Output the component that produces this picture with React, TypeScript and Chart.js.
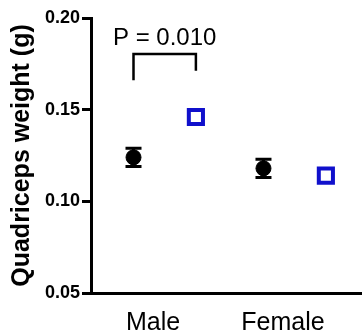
import React, { useEffect, useRef } from 'react';
import { Chart, registerables } from 'chart.js';

Chart.register(...registerables);

const categories = ['Male', 'Female'];
const categoryPositions = [1, 2];
const controlMeans = [0.124, 0.118];
const controlErrors = [0.005, 0.005];
const treatedMeans = [0.146, 0.114];
const yTicks = [0.05, 0.1, 0.15, 0.2];
const pValueLabel = 'P = 0.010';
// bracket: [left y end, top y, right y end], in data units
const bracketLevels = [0.166, 0.1804, 0.1712];
const pLabelLevel = 0.189;

const CONTROL_OFFSET = -0.15;
const TREATED_OFFSET = 0.33;

export default function App() {
  const ref = useRef<HTMLCanvasElement | null>(null);

  useEffect(() => {
    document.body.style.margin = '0';
    document.body.style.overflow = 'hidden';
    const canvas = ref.current;
    if (!canvas) return;

    const controlPts = categoryPositions.map((p, i) => ({ x: p + CONTROL_OFFSET, y: controlMeans[i] }));
    const treatedPts = categoryPositions.map((p, i) => ({ x: p + TREATED_OFFSET, y: treatedMeans[i] }));

    const errorBars = {
      id: 'errorBars',
      beforeDatasetsDraw(chart: any) {
        const { ctx, scales } = chart;
        const xs = scales.x;
        const ys = scales.y;
        ctx.save();
        ctx.strokeStyle = '#000';
        ctx.lineWidth = 3;
        controlPts.forEach((pt, i) => {
          const x = xs.getPixelForValue(pt.x);
          const y1 = ys.getPixelForValue(pt.y - controlErrors[i]);
          const y2 = ys.getPixelForValue(pt.y + controlErrors[i]);
          ctx.beginPath();
          ctx.moveTo(x, y1);
          ctx.lineTo(x, y2);
          ctx.moveTo(x - 8, y1);
          ctx.lineTo(x + 8, y1);
          ctx.moveTo(x - 8, y2);
          ctx.lineTo(x + 8, y2);
          ctx.stroke();
        });
        ctx.restore();
      },
    };

    const bracket = {
      id: 'bracket',
      afterDraw(chart: any) {
        const { ctx, scales } = chart;
        const xs = scales.x;
        const ys = scales.y;
        const xl = xs.getPixelForValue(controlPts[0].x);
        const xr = xs.getPixelForValue(treatedPts[0].x);
        ctx.save();
        ctx.strokeStyle = '#000';
        ctx.lineWidth = 2.5;
        ctx.beginPath();
        ctx.moveTo(xl, ys.getPixelForValue(bracketLevels[0]));
        ctx.lineTo(xl, ys.getPixelForValue(bracketLevels[1]));
        ctx.lineTo(xr, ys.getPixelForValue(bracketLevels[1]));
        ctx.lineTo(xr, ys.getPixelForValue(bracketLevels[2]));
        ctx.stroke();
        ctx.fillStyle = '#000';
        ctx.font = '24px "Liberation Sans", Arial, sans-serif';
        ctx.textAlign = 'center';
        ctx.textBaseline = 'middle';
        ctx.fillText(pValueLabel, (xl + xr) / 2, ys.getPixelForValue(pLabelLevel));
        ctx.restore();
      },
    };

    const chart = new Chart(canvas, {
      type: 'scatter',
      data: {
        datasets: [
          {
            label: 'Control',
            data: controlPts,
            pointStyle: 'circle',
            pointRadius: 7.5,
            pointBackgroundColor: '#000',
            pointBorderColor: '#000',
            pointBorderWidth: 1,
          },
          {
            label: 'Treated',
            data: treatedPts,
            pointStyle: 'rect',
            pointRadius: 10,
            pointBackgroundColor: '#fff',
            pointBorderColor: '#1010cc',
            pointBorderWidth: 4,
          },
        ],
      },
      options: {
        animation: false,
        responsive: false,
        maintainAspectRatio: false,
        layout: { autoPadding: false, padding: { top: 18, left: 0, right: 0, bottom: 0 } },
        plugins: { legend: { display: false }, tooltip: { enabled: false } },
        scales: {
          x: {
            type: 'linear',
            min: 0.523,
            max: 2.608,
            afterBuildTicks(scale: any) {
              scale.ticks = categoryPositions.map((v) => ({ value: v }));
            },
            afterFit(scale: any) {
              scale.height = 40;
              scale.paddingLeft = 0;
              scale.paddingRight = 0;
            },
            grid: { display: false },
            border: { display: true, color: '#000', width: 3 },
            ticks: {
              color: '#000',
              padding: 7,
              font: { family: '"Liberation Sans", Arial, sans-serif', size: 25 },
              callback: (_v: any, i: number) => categories[i],
              maxRotation: 0,
            },
          },
          y: {
            min: 0.05,
            max: 0.2,
            afterBuildTicks(scale: any) {
              scale.ticks = yTicks.map((v) => ({ value: v }));
            },
            afterFit(scale: any) {
              scale.width = 91;
            },
            grid: {
              display: true,
              drawOnChartArea: false,
              drawTicks: true,
              tickLength: 9,
              lineWidth: 3,
              color: '#000',
            },
            border: { display: true, color: '#000', width: 3 },
            ticks: {
              color: '#000',
              padding: 2,
              font: { family: '"Liberation Sans", Arial, sans-serif', size: 18, weight: 'bold' },
              callback: (v: any) => Number(v).toFixed(2),
            },
            title: {
              display: true,
              text: 'Quadriceps weight (g)',
              color: '#000',
              padding: { top: 7, bottom: 0 },
              font: { family: '"Liberation Sans", Arial, sans-serif', size: 25, weight: 'bold' },
            },
          },
        },
      },
      plugins: [errorBars, bracket],
    });

    return () => chart.destroy();
  }, []);

  return (
    <div style={{ position: 'fixed', left: 0, top: 0, width: 362, height: 333 }}>
      <canvas ref={ref} width={362} height={333} style={{ display: 'block' }} />
    </div>
  );
}
